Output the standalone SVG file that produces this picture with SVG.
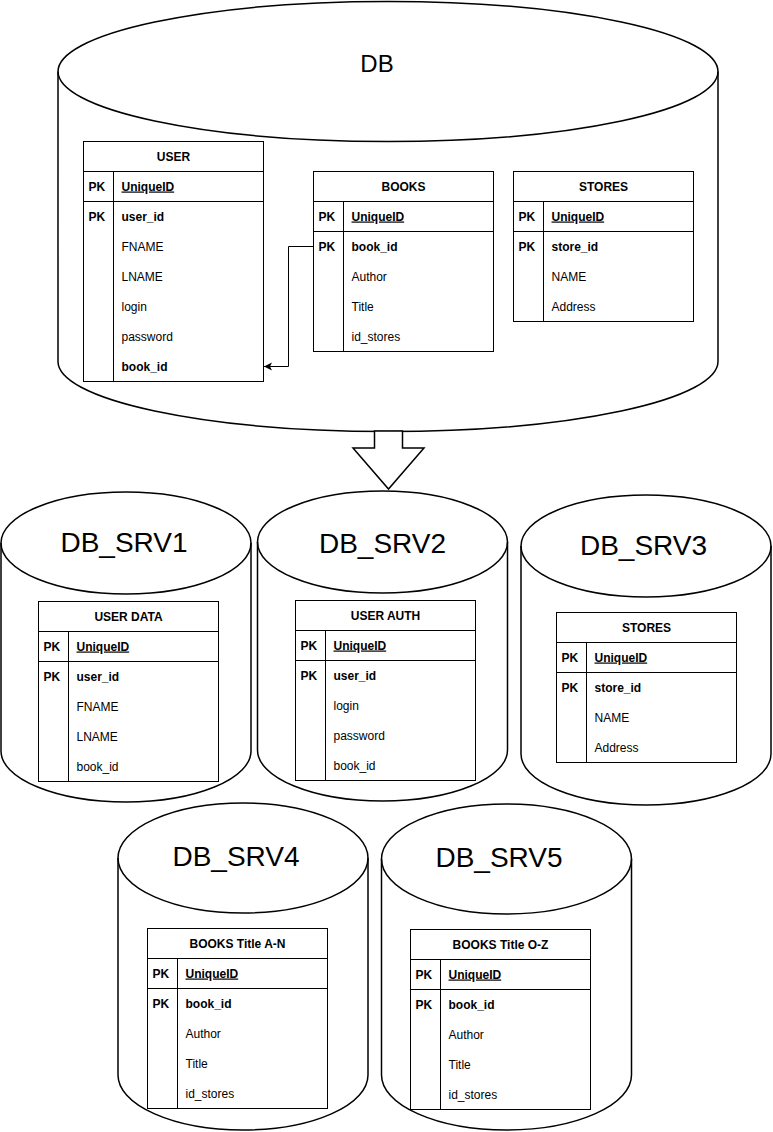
<svg xmlns="http://www.w3.org/2000/svg" width="773" height="1132" viewBox="0 0 773 1132">
<style>
.cyl{fill:#fff;stroke:#000;stroke-width:1.5}
.lid{fill:none;stroke:#000;stroke-width:1.5}
.tb{fill:#fff;stroke:#000;stroke-width:1}
.ln{stroke:#000;stroke-width:1}
text{font-family:"Liberation Sans",Arial,sans-serif;fill:#000}
.big{font-size:24px;text-anchor:middle}
.srv{font-size:28px;text-anchor:middle}
.hd{font-size:12px;font-weight:bold;text-anchor:middle}
.b{font-size:12px;font-weight:bold}
.r{font-size:12px}
.u{text-decoration:underline}
.conn{fill:none;stroke:#000;stroke-width:1}
.blk{fill:#fff;stroke:#000;stroke-width:1.5;stroke-linejoin:miter}
</style>
<defs>
<marker id="arr" markerWidth="10" markerHeight="10" refX="8" refY="4" orient="auto" markerUnits="userSpaceOnUse">
<path d="M0,0 L8,4 L0,8 L2,4 Z" fill="#000"/>
</marker>
</defs>

<g id="db">
<path class="cyl" d="M58,71.5 A330,70 0 0 1 718,71.5 V361.5 A330,70 0 0 1 58,361.5 Z"/>
<path class="lid" d="M58,71.5 A330,70 0 0 0 718,71.5"/>
<text class="big" x="377" y="72">DB</text>
</g>

<g id="tbl-user" transform="translate(83.5,141.5)">
<rect class="tb" x="0" y="0" width="180" height="240"/>
<line class="ln" x1="0" y1="30" x2="180" y2="30"/>
<line class="ln" x1="0" y1="60" x2="180" y2="60"/>
<line class="ln" x1="30" y1="30" x2="30" y2="240"/>
<text class="hd" x="90" y="19">USER</text>
<text class="b" x="5" y="49">PK</text><text class="b u" x="38" y="49">UniqueID</text>
<text class="b" x="5" y="79">PK</text><text class="b" x="38" y="79">user_id</text>
<text class="r" x="38" y="109">FNAME</text>
<text class="r" x="38" y="139">LNAME</text>
<text class="r" x="38" y="169">login</text>
<text class="r" x="38" y="199">password</text>
<text class="b" x="38" y="229">book_id</text>
</g>

<g id="tbl-books" transform="translate(313.5,171.5)">
<rect class="tb" x="0" y="0" width="180" height="180"/>
<line class="ln" x1="0" y1="30" x2="180" y2="30"/>
<line class="ln" x1="0" y1="60" x2="180" y2="60"/>
<line class="ln" x1="30" y1="30" x2="30" y2="180"/>
<text class="hd" x="90" y="19">BOOKS</text>
<text class="b" x="5" y="49">PK</text><text class="b u" x="38" y="49">UniqueID</text>
<text class="b" x="5" y="79">PK</text><text class="b" x="38" y="79">book_id</text>
<text class="r" x="38" y="109">Author</text>
<text class="r" x="38" y="139">Title</text>
<text class="r" x="38" y="169">id_stores</text>
</g>

<g id="tbl-stores" transform="translate(513.5,171.5)">
<rect class="tb" x="0" y="0" width="180" height="150"/>
<line class="ln" x1="0" y1="30" x2="180" y2="30"/>
<line class="ln" x1="0" y1="60" x2="180" y2="60"/>
<line class="ln" x1="30" y1="30" x2="30" y2="150"/>
<text class="hd" x="90" y="19">STORES</text>
<text class="b" x="5" y="49">PK</text><text class="b u" x="38" y="49">UniqueID</text>
<text class="b" x="5" y="79">PK</text><text class="b" x="38" y="79">store_id</text>
<text class="r" x="38" y="109">NAME</text>
<text class="r" x="38" y="139">Address</text>
</g>

<g id="connectors">
<path class="conn" d="M313.5,246.5 H288.5 V366.5 H264" marker-end="url(#arr)"/>
<polygon class="blk" points="374.5,431 402.5,431 402.5,448 424,448 388.5,489 353,448 374.5,448"/>
</g>

<g id="srv1">
<path class="cyl" d="M1,543 A125,51 0 0 1 251,543 V751 A125,51 0 0 1 1,751 Z"/>
<path class="lid" d="M1,543 A125,51 0 0 0 251,543"/>
<text class="srv" x="124" y="552">DB_SRV1</text>
</g>
<g id="tbl-userdata" transform="translate(38.5,601.5)">
<rect class="tb" x="0" y="0" width="180" height="180"/>
<line class="ln" x1="0" y1="30" x2="180" y2="30"/>
<line class="ln" x1="0" y1="60" x2="180" y2="60"/>
<line class="ln" x1="30" y1="30" x2="30" y2="180"/>
<text class="hd" x="90" y="19">USER DATA</text>
<text class="b" x="5" y="49">PK</text><text class="b u" x="38" y="49">UniqueID</text>
<text class="b" x="5" y="79">PK</text><text class="b" x="38" y="79">user_id</text>
<text class="r" x="38" y="109">FNAME</text>
<text class="r" x="38" y="139">LNAME</text>
<text class="r" x="38" y="169">book_id</text>
</g>

<g id="srv2">
<path class="cyl" d="M257.5,542 A125,51 0 0 1 507.5,542 V750 A125,51 0 0 1 257.5,750 Z"/>
<path class="lid" d="M257.5,542 A125,51 0 0 0 507.5,542"/>
<text class="srv" x="382.5" y="553">DB_SRV2</text>
</g>
<g id="tbl-userauth" transform="translate(295.5,600.5)">
<rect class="tb" x="0" y="0" width="180" height="180"/>
<line class="ln" x1="0" y1="30" x2="180" y2="30"/>
<line class="ln" x1="0" y1="60" x2="180" y2="60"/>
<line class="ln" x1="30" y1="30" x2="30" y2="180"/>
<text class="hd" x="90" y="19">USER AUTH</text>
<text class="b" x="5" y="49">PK</text><text class="b u" x="38" y="49">UniqueID</text>
<text class="b" x="5" y="79">PK</text><text class="b" x="38" y="79">user_id</text>
<text class="r" x="38" y="109">login</text>
<text class="r" x="38" y="139">password</text>
<text class="r" x="38" y="169">book_id</text>
</g>

<g id="srv3">
<path class="cyl" d="M521,546 A125,51 0 0 1 771,546 V754 A125,51 0 0 1 521,754 Z"/>
<path class="lid" d="M521,546 A125,51 0 0 0 771,546"/>
<text class="srv" x="643.5" y="555">DB_SRV3</text>
</g>
<g id="tbl-stores2" transform="translate(556.5,612.5)">
<rect class="tb" x="0" y="0" width="180" height="150"/>
<line class="ln" x1="0" y1="30" x2="180" y2="30"/>
<line class="ln" x1="0" y1="60" x2="180" y2="60"/>
<line class="ln" x1="30" y1="30" x2="30" y2="150"/>
<text class="hd" x="90" y="19">STORES</text>
<text class="b" x="5" y="49">PK</text><text class="b u" x="38" y="49">UniqueID</text>
<text class="b" x="5" y="79">PK</text><text class="b" x="38" y="79">store_id</text>
<text class="r" x="38" y="109">NAME</text>
<text class="r" x="38" y="139">Address</text>
</g>

<g id="srv4">
<path class="cyl" d="M118,858 A125,55 0 0 1 368,858 V1075 A125,55 0 0 1 118,1075 Z"/>
<path class="lid" d="M118,858 A125,55 0 0 0 368,858"/>
<text class="srv" x="236" y="866">DB_SRV4</text>
</g>
<g id="tbl-books-an" transform="translate(147.5,928.5)">
<rect class="tb" x="0" y="0" width="180" height="180"/>
<line class="ln" x1="0" y1="30" x2="180" y2="30"/>
<line class="ln" x1="0" y1="60" x2="180" y2="60"/>
<line class="ln" x1="30" y1="30" x2="30" y2="180"/>
<text class="hd" x="90" y="19">BOOKS Title A-N</text>
<text class="b" x="5" y="49">PK</text><text class="b u" x="38" y="49">UniqueID</text>
<text class="b" x="5" y="79">PK</text><text class="b" x="38" y="79">book_id</text>
<text class="r" x="38" y="109">Author</text>
<text class="r" x="38" y="139">Title</text>
<text class="r" x="38" y="169">id_stores</text>
</g>

<g id="srv5">
<path class="cyl" d="M381.5,859 A125,55 0 0 1 631.5,859 V1075 A125,55 0 0 1 381.5,1075 Z"/>
<path class="lid" d="M381.5,859 A125,55 0 0 0 631.5,859"/>
<text class="srv" x="499" y="867">DB_SRV5</text>
</g>
<g id="tbl-books-oz" transform="translate(410.5,929.5)">
<rect class="tb" x="0" y="0" width="180" height="180"/>
<line class="ln" x1="0" y1="30" x2="180" y2="30"/>
<line class="ln" x1="0" y1="60" x2="180" y2="60"/>
<line class="ln" x1="30" y1="30" x2="30" y2="180"/>
<text class="hd" x="90" y="19">BOOKS Title O-Z</text>
<text class="b" x="5" y="49">PK</text><text class="b u" x="38" y="49">UniqueID</text>
<text class="b" x="5" y="79">PK</text><text class="b" x="38" y="79">book_id</text>
<text class="r" x="38" y="109">Author</text>
<text class="r" x="38" y="139">Title</text>
<text class="r" x="38" y="169">id_stores</text>
</g>
</svg>
